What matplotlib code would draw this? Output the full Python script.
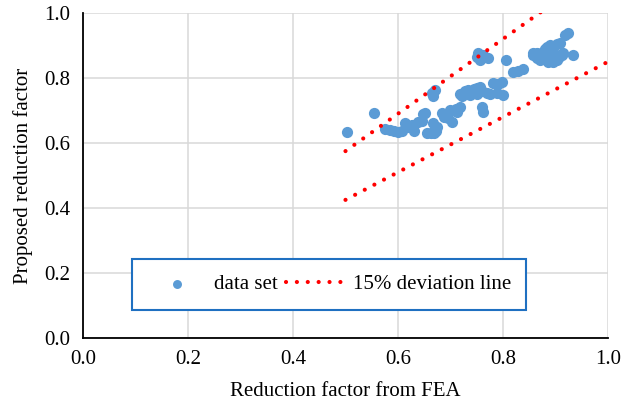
import matplotlib
matplotlib.use("Agg")
import matplotlib.pyplot as plt

# FEA vs. proposed reduction factor
fea = [0.502, 0.555, 0.575, 0.585, 0.592, 0.600, 0.608, 0.613, 0.620, 0.627,
       0.630, 0.638, 0.645, 0.651, 0.648, 0.656, 0.662, 0.668, 0.672, 0.664,
       0.670, 0.667, 0.666, 0.675, 0.683, 0.688, 0.695, 0.702, 0.699, 0.710,
       0.718, 0.712, 0.718, 0.722, 0.728, 0.733, 0.740, 0.745, 0.750, 0.756,
       0.738, 0.750, 0.760, 0.770, 0.776, 0.781, 0.790, 0.798, 0.789, 0.800,
       0.760, 0.762, 0.753, 0.762, 0.772, 0.756, 0.750, 0.806, 0.820, 0.828,
       0.838, 0.858, 0.864, 0.870, 0.877, 0.883, 0.890, 0.896, 0.902, 0.909,
       0.912, 0.915, 0.883, 0.877, 0.870, 0.858, 0.890, 0.896, 0.902, 0.880,
       0.864, 0.906, 0.895, 0.885, 0.924, 0.918, 0.934, 0.865, 0.872, 0.900]
proposed = [0.633, 0.692, 0.643, 0.640, 0.636, 0.634, 0.638, 0.660, 0.648, 0.655,
            0.636, 0.665, 0.668, 0.692, 0.688, 0.632, 0.630, 0.632, 0.636, 0.754,
            0.763, 0.745, 0.660, 0.650, 0.692, 0.680, 0.678, 0.665, 0.700, 0.705,
            0.710, 0.696, 0.752, 0.745, 0.760, 0.763, 0.758, 0.766, 0.770, 0.772,
            0.748, 0.752, 0.760, 0.755, 0.750, 0.785, 0.780, 0.788, 0.754, 0.748,
            0.710, 0.695, 0.876, 0.871, 0.861, 0.855, 0.865, 0.855, 0.818, 0.822,
            0.827, 0.876, 0.861, 0.855, 0.861, 0.876, 0.861, 0.896, 0.855, 0.907,
            0.871, 0.876, 0.896, 0.881, 0.866, 0.871, 0.902, 0.881, 0.905, 0.890,
            0.876, 0.866, 0.850, 0.850, 0.938, 0.932, 0.871, 0.868, 0.872, 0.870]

# +/-15% bounds
line_x = [0.5, 1.0]
upper = [0.575, 1.15]
lower = [0.425, 0.85]

ticks = [0.0, 0.2, 0.4, 0.6, 0.8, 1.0]

plt.rcParams['font.family'] = ['Liberation Serif', 'DejaVu Serif']
plt.rcParams['font.size'] = 15

fig = plt.figure(figsize=(6.22, 4.08), dpi=100)
ax = fig.add_axes([0.1334, 0.1716, 0.8441, 0.7966])

dotted = (0, (0.01, 2.6))

ax.scatter(fea, proposed, s=65, color='#5B9BD5', zorder=3, label='data set',
           linewidths=0)
ax.plot(line_x, upper, color='#FF0000', lw=3.0, linestyle=dotted,
        dash_capstyle='round', zorder=4, label='15% deviation line')
ax.plot(line_x, lower, color='#FF0000', lw=3.0, linestyle=dotted,
        dash_capstyle='round', zorder=4)

ax.set_xlim(0, 1)
ax.set_ylim(0, 1)
ax.set_xticks(ticks)
ax.set_yticks(ticks)
ax.set_xticklabels([f'{t:.1f}' for t in ticks])
ax.set_yticklabels([f'{t:.1f}' for t in ticks])
ax.tick_params(length=0, pad=9)
ax.grid(True, color='#D9D9D9', lw=1.1)
ax.set_axisbelow(True)

for s in ['top', 'right']:
    ax.spines[s].set_visible(False)
for s in ['left', 'bottom']:
    ax.spines[s].set_linewidth(1.3)
    ax.spines[s].set_color('black')

ax.set_xlabel('Reduction factor from FEA', labelpad=9)
ax.set_ylabel('Proposed reduction factor', labelpad=8)

leg = ax.legend(loc='center', bbox_to_anchor=(0.4686, 0.1646), ncol=2,
                fancybox=False, framealpha=1, edgecolor='#1F70C1',
                handlelength=2.9, handletextpad=0.3, columnspacing=0.4,
                borderpad=0.75, markerscale=0.8)
leg.get_frame().set_linewidth(1.5)

fig.savefig('out.png', dpi=100)
